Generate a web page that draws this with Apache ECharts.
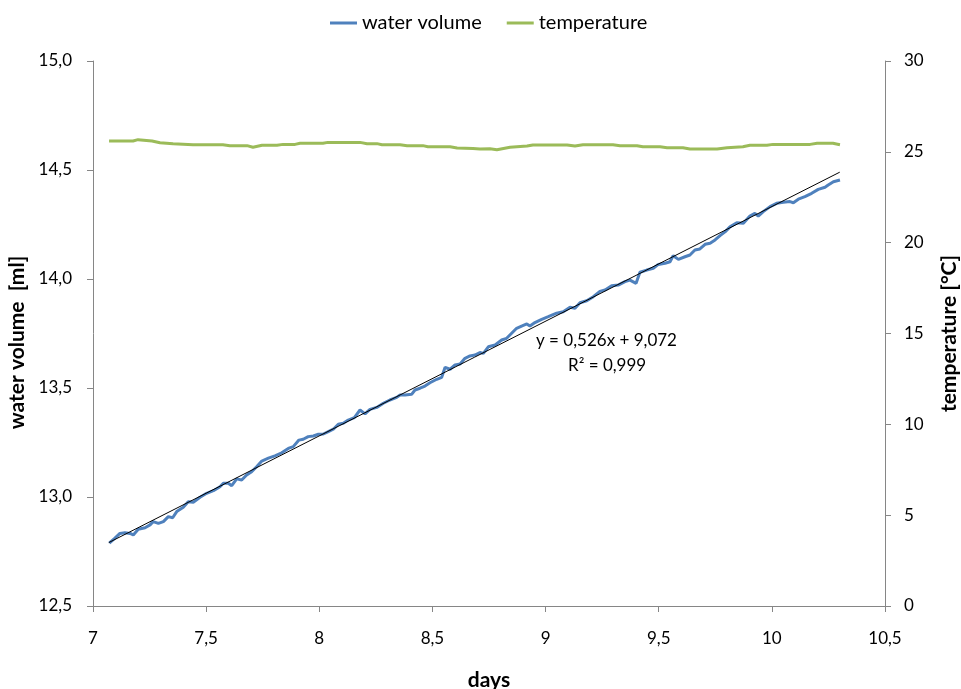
<!DOCTYPE html>
<html>
<head>
<meta charset="utf-8">
<script src="https://cdn.jsdelivr.net/npm/echarts@6/dist/echarts.min.js"></script>
<style>html,body{margin:0;padding:0;background:#fff;overflow:hidden}#c{width:961px;height:689px}</style>
</head>
<body>
<div id="c"></div>
<script>
const waterDays = [7.072,7.097,7.119,7.141,7.164,7.178,7.200,7.230,7.252,7.266,7.289,7.311,7.333,7.352,7.370,7.399,7.421,7.443,7.473,7.502,7.532,7.561,7.576,7.598,7.613,7.635,7.657,7.679,7.701,7.723,7.746,7.775,7.804,7.834,7.863,7.885,7.910,7.929,7.951,7.974,7.996,8.018,8.040,8.062,8.084,8.106,8.128,8.155,8.180,8.202,8.224,8.254,8.283,8.312,8.342,8.357,8.379,8.408,8.423,8.445,8.467,8.489,8.519,8.541,8.556,8.578,8.600,8.622,8.644,8.666,8.688,8.710,8.725,8.747,8.777,8.806,8.828,8.850,8.872,8.894,8.917,8.931,8.953,8.983,9.012,9.049,9.078,9.108,9.130,9.152,9.182,9.211,9.240,9.263,9.292,9.321,9.351,9.373,9.400,9.417,9.447,9.476,9.498,9.528,9.550,9.564,9.587,9.616,9.638,9.660,9.682,9.705,9.727,9.749,9.771,9.793,9.815,9.845,9.874,9.903,9.925,9.940,9.962,9.992,10.021,10.051,10.080,10.095,10.117,10.146,10.176,10.205,10.235,10.249,10.272,10.301];
const waterVolume = [12.788,12.811,12.833,12.836,12.833,12.826,12.852,12.859,12.872,12.887,12.879,12.887,12.910,12.905,12.933,12.953,12.978,12.976,12.999,13.017,13.029,13.047,13.063,13.063,13.052,13.083,13.078,13.101,13.116,13.139,13.165,13.178,13.189,13.203,13.223,13.231,13.261,13.265,13.277,13.280,13.288,13.289,13.300,13.311,13.334,13.338,13.353,13.364,13.399,13.381,13.402,13.411,13.430,13.445,13.457,13.468,13.468,13.471,13.491,13.499,13.509,13.524,13.540,13.549,13.595,13.586,13.606,13.610,13.636,13.647,13.651,13.663,13.659,13.689,13.697,13.720,13.728,13.751,13.774,13.784,13.794,13.784,13.800,13.815,13.827,13.843,13.850,13.870,13.866,13.891,13.900,13.919,13.943,13.950,13.969,13.972,13.988,13.995,13.980,14.031,14.041,14.049,14.067,14.072,14.079,14.107,14.090,14.102,14.110,14.133,14.138,14.159,14.164,14.179,14.199,14.216,14.239,14.258,14.256,14.289,14.301,14.289,14.309,14.332,14.347,14.352,14.355,14.350,14.366,14.378,14.393,14.411,14.421,14.431,14.446,14.454];
const tempDays = [7.071,7.177,7.199,7.261,7.296,7.354,7.442,7.574,7.605,7.681,7.707,7.747,7.813,7.840,7.893,7.915,8.016,8.038,8.180,8.211,8.255,8.277,8.357,8.388,8.458,8.480,8.578,8.609,8.679,8.710,8.754,8.785,8.843,8.918,8.944,9.095,9.130,9.165,9.298,9.329,9.404,9.430,9.506,9.537,9.607,9.638,9.758,9.802,9.872,9.903,9.978,10.005,10.169,10.200,10.270,10.301];
const tempValues = [25.60,25.60,25.67,25.60,25.50,25.45,25.39,25.39,25.34,25.34,25.25,25.36,25.36,25.41,25.41,25.47,25.47,25.52,25.52,25.45,25.45,25.39,25.39,25.34,25.34,25.28,25.28,25.21,25.19,25.16,25.17,25.12,25.25,25.32,25.38,25.38,25.32,25.39,25.39,25.34,25.34,25.28,25.28,25.23,25.23,25.16,25.16,25.23,25.28,25.36,25.36,25.41,25.41,25.47,25.47,25.39];
const trendDays = [7.07, 10.30];
const trendVolume = [12.791, 14.490];
const xTicks = [7, 7.5, 8, 8.5, 9, 9.5, 10, 10.5];
const equationLines = ['y = 0,526x + 9,072', 'R² = 0,999'];

const zip = (a, b) => a.map((v, i) => [v, b[i]]);
const FONT = 'Lato';
const comma = s => String(s).replace('.', ',');

const chart = echarts.init(document.getElementById('c'), null, {renderer: 'canvas', width: 961, height: 689});
chart.setOption({
  animation: false,
  backgroundColor: '#ffffff',
  textStyle: {fontFamily: FONT, color: '#000'},
  legend: {
    top: 8, left: 325,
    data: ['water volume', 'temperature'],
    icon: 'rect', itemWidth: 27, itemHeight: 3, itemGap: 25,
    textStyle: {fontFamily: FONT, fontSize: 20, color: '#000'}
  },
  grid: {left: 93, right: 76, top: 61, bottom: 83, containLabel: false, outerBoundsMode: 'none'},
  xAxis: {
    type: 'value', min: 7, max: 10.5, interval: 0.5,
    name: 'days', nameLocation: 'middle', nameGap: 64,
    nameTextStyle: {fontFamily: FONT, fontSize: 21, fontWeight: 'bold', color: '#000'},
    axisLine: {show: true, lineStyle: {color: '#868686', width: 1}},
    axisTick: {show: true, inside: false, length: 6, lineStyle: {color: '#868686'}},
    axisLabel: {fontFamily: FONT, fontSize: 17, color: '#000', margin: 24,
      formatter: v => xTicks.includes(+v.toFixed(2)) ? comma(v) : ''},
    splitLine: {show: false}
  },
  yAxis: [{
    type: 'value', min: 12.5, max: 15, interval: 0.5, position: 'left',
    name: 'water volume  [ml]', nameLocation: 'middle', nameGap: 56, nameRotate: 90,
    nameTextStyle: {fontFamily: FONT, fontSize: 21, fontWeight: 'bold', color: '#000', padding: [0, 18, 0, 0]},
    axisLine: {show: true, lineStyle: {color: '#868686', width: 1}},
    axisTick: {show: true, inside: false, length: 6, lineStyle: {color: '#868686'}},
    axisLabel: {fontFamily: FONT, fontSize: 17, color: '#000', margin: 21,
      formatter: v => comma(v.toFixed(1))},
    splitLine: {show: false}
  }, {
    type: 'value', min: 0, max: 30, interval: 5, position: 'right',
    name: 'temperature [°C]', nameLocation: 'middle', nameGap: 54, nameRotate: 90,
    nameTextStyle: {fontFamily: FONT, fontSize: 21, fontWeight: 'bold', color: '#000'},
    axisLine: {show: true, lineStyle: {color: '#868686', width: 1}},
    axisTick: {show: true, inside: false, length: 6, lineStyle: {color: '#868686'}},
    axisLabel: {fontFamily: FONT, fontSize: 17, color: '#000', margin: 19},
    splitLine: {show: false}
  }],
  series: [{
    name: 'temperature', type: 'line', yAxisIndex: 1,
    data: zip(tempDays, tempValues), showSymbol: false, symbol: 'none',
    lineStyle: {color: '#9BBB59', width: 3}, itemStyle: {color: '#9BBB59'}, z: 2
  }, {
    name: 'water volume', type: 'line', yAxisIndex: 0,
    data: zip(waterDays, waterVolume), showSymbol: false, symbol: 'none',
    lineStyle: {color: '#4F81BD', width: 3}, itemStyle: {color: '#4F81BD'}, z: 3
  }, {
    name: 'trend', type: 'line', yAxisIndex: 0,
    data: zip(trendDays, trendVolume), showSymbol: false, symbol: 'none',
    lineStyle: {color: '#000', width: 1}, itemStyle: {color: '#000'}, z: 4
  }],
  graphic: [{
    type: 'text', left: 536, top: 332, z: 10,
    style: {text: equationLines[0], fontFamily: FONT, fontSize: 17, fill: '#000'}
  }, {
    type: 'text', left: 568, top: 357, z: 10,
    style: {text: equationLines[1], fontFamily: FONT, fontSize: 17, fill: '#000'}
  }]
});
</script>
</body>
</html>
